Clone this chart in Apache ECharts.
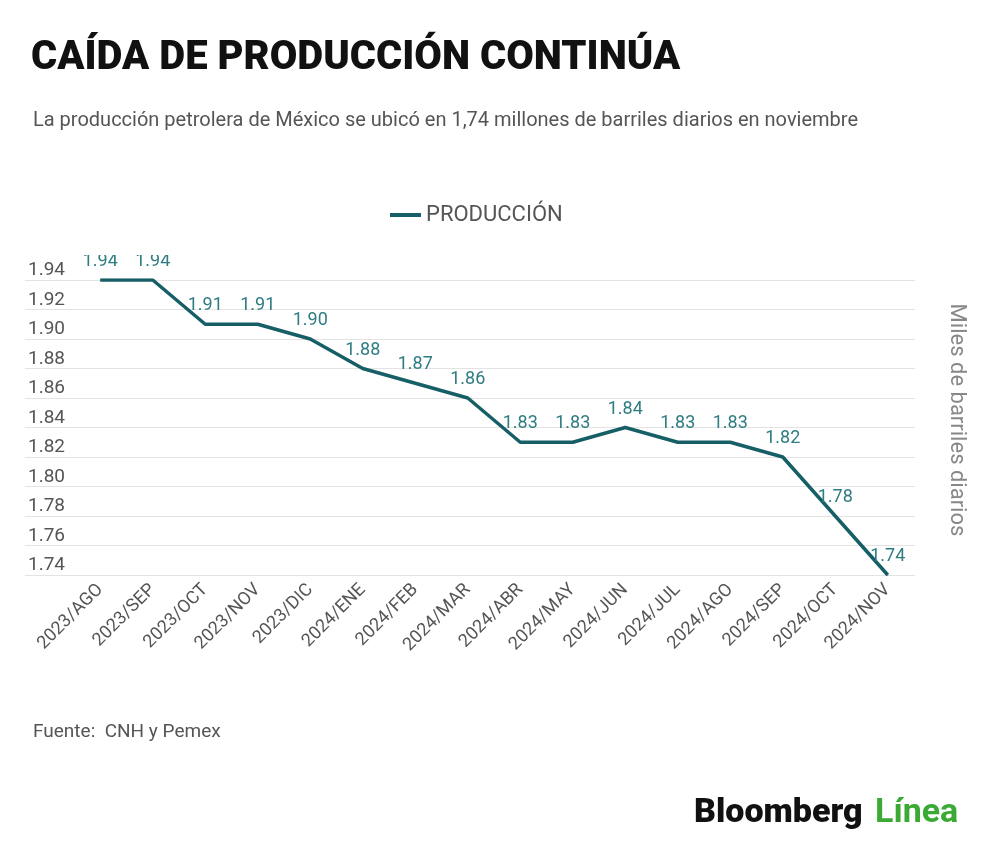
<!DOCTYPE html>
<html>
<head>
<meta charset="utf-8">
<script src="https://cdn.jsdelivr.net/npm/echarts@6/dist/echarts.min.js"></script>
<style>
  html, body { margin: 0; padding: 0; background: #fff; }
  #chart { width: 1000px; height: 860px; }
</style>
</head>
<body>
<div id="chart"></div>
<script>
const months = ['2023/AGO', '2023/SEP', '2023/OCT', '2023/NOV', '2023/DIC', '2024/ENE', '2024/FEB', '2024/MAR', '2024/ABR', '2024/MAY', '2024/JUN', '2024/JUL', '2024/AGO', '2024/SEP', '2024/OCT', '2024/NOV'];
const produccion = [1.94, 1.94, 1.91, 1.91, 1.90, 1.88, 1.87, 1.86, 1.83, 1.83, 1.84, 1.83, 1.83, 1.82, 1.78, 1.74];
const yMin = 1.74;
const yMax = 1.94;
const yStep = 0.02;

const teal = '#175f66';
const labelTeal = '#2f7c82';
const grey = '#555';

const chart = echarts.init(document.getElementById('chart'));
chart.setOption({
  backgroundColor: '#fff',
  animation: false,
  textStyle: { fontFamily: 'Roboto' },
  title: [
    { text: 'CAÍDA DE PRODUCCIÓN CONTINÚA', left: 26, top: 34, textStyle: { fontFamily: 'Roboto', fontWeight: 900, fontSize: 40, color: '#111' } },
    { text: 'La producción petrolera de México se ubicó en 1,74 millones de barriles diarios en noviembre', left: 28, top: 106, textStyle: { fontFamily: 'Roboto', fontWeight: 'normal', fontSize: 20, color: grey } },
    { text: 'Fuente:  CNH y Pemex', left: 28, top: 718, textStyle: { fontFamily: 'Roboto', fontWeight: 'normal', fontSize: 19, color: grey } }
  ],
  legend: {
    data: ['PRODUCCIÓN'], top: 199, left: 385,
    icon: 'rect', itemWidth: 31, itemHeight: 4, itemGap: 14,
    textStyle: { color: grey, fontSize: 22, fontFamily: 'Roboto' }
  },
  grid: [
    { left: 25, right: 85, top: 280, bottom: 285 },
    { left: 74, right: 86, top: 280, bottom: 285 }
  ],
  xAxis: [
    { type: 'category', gridIndex: 0, data: months, show: false },
    {
      type: 'category', gridIndex: 1, data: months, boundaryGap: true,
      axisLine: { show: false }, axisTick: { show: false },
      axisLabel: { rotate: 45, interval: 0, color: grey, fontSize: 18, margin: 12 }
    }
  ],
  yAxis: [
    {
      type: 'value', gridIndex: 0, min: yMin, max: yMax, interval: yStep,
      axisLine: { show: false }, axisTick: { show: false },
      splitLine: { lineStyle: { color: '#e3e3e3', width: 1 } },
      axisLabel: { inside: true, verticalAlign: 'bottom', color: grey, fontSize: 19, margin: 3, formatter: v => v.toFixed(2) }
    },
    { type: 'value', gridIndex: 1, min: yMin, max: yMax, interval: yStep, show: false }
  ],
  series: [{
    name: 'PRODUCCIÓN', type: 'line', xAxisIndex: 1, yAxisIndex: 1,
    data: produccion, symbol: 'circle', symbolSize: 1, showSymbol: true,
    lineStyle: { color: teal, width: 3.5 }, itemStyle: { color: teal },
    label: { show: true, position: 'top', distance: 9, color: labelTeal, fontSize: 18, formatter: p => p.value.toFixed(2) }
  }],
  graphic: [
    // top edge of plot area crops the first labels, as in the reference
    { type: 'rect', left: 70, top: 232, shape: { width: 140, height: 23 }, style: { fill: '#fff' }, z: 100 },
    {
      type: 'text', x: 956, y: 420, rotation: -Math.PI / 2,
      style: { text: 'Miles de barriles diarios', fill: '#888', fontSize: 22, fontFamily: 'Roboto', align: 'center', verticalAlign: 'middle' }
    },
    {
      type: 'text', left: 694, top: 796,
      style: { text: 'Bloomberg', fill: '#111', fontSize: 34, fontWeight: 900, fontFamily: 'Roboto' }
    },
    {
      type: 'text', left: 875, top: 796,
      style: { text: 'Línea', fill: '#3aaa35', fontSize: 34, fontWeight: 'bold', fontFamily: 'Roboto' }
    }
  ]
});
</script>
</body>
</html>
